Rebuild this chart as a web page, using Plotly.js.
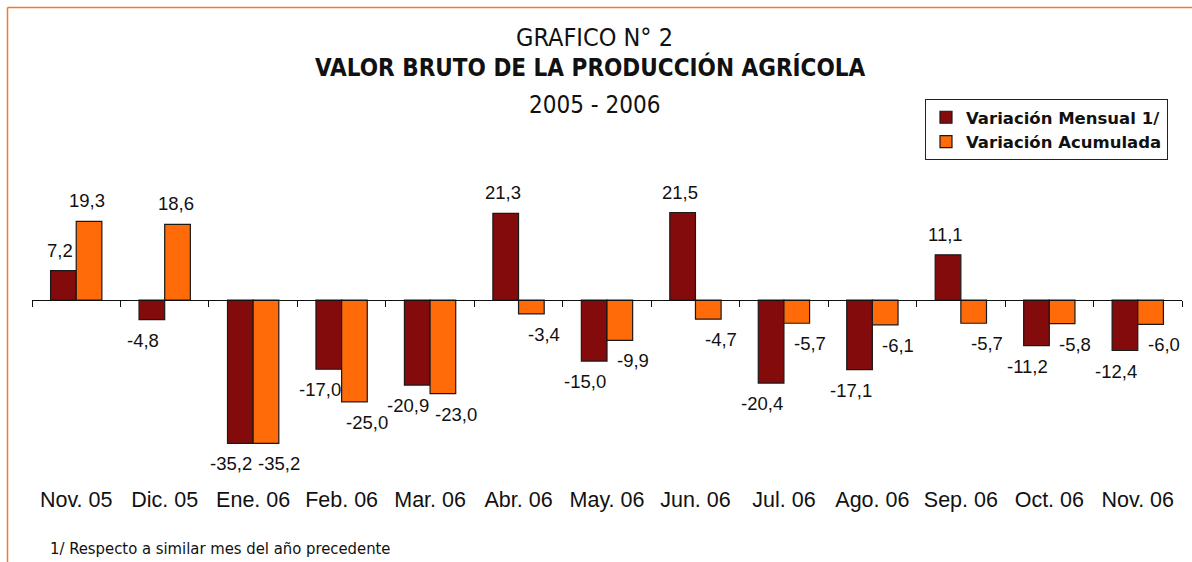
<!DOCTYPE html>
<html>
<head>
<meta charset="utf-8">
<script src="https://cdn.plot.ly/plotly-3.0.1.min.js"></script>
<style>
  html, body { margin: 0; padding: 0; background: #ffffff; }
  #chart { width: 1192px; height: 562px; }
</style>
</head>
<body>
<div id="chart"></div>
<script>
// ---- Data ----
const categories = ['Nov. 05', 'Dic. 05', 'Ene. 06', 'Feb. 06', 'Mar. 06', 'Abr. 06', 'May. 06',
                    'Jun. 06', 'Jul. 06', 'Ago. 06', 'Sep. 06', 'Oct. 06', 'Nov. 06'];
const mensual   = [7.2, -4.8, -35.2, -17.0, -20.9, 21.3, -15.0, 21.5, -20.4, -17.1, 11.1, -11.2, -12.4];
const acumulada = [19.3, 18.6, -35.2, -25.0, -23.0, -3.4, -9.9, -4.7, -5.7, -6.1, -5.7, -5.8, -6.0];
const seriesNames = ['Variación Mensual 1/', 'Variación Acumulada'];

// ---- Layout geometry ----
const W = 1192, H = 562;
const ML = 32, MR = 10, MT = 160, MB = 102;
const PW = W - ML - MR, PH = H - MT - MB;
const yRange = [-39.3, 34.4];
const BARGAP = 0.42;

function px2x(px) { return (px - ML) / PW; }
function py2y(py) { return (H - MB - py) / PH; }

const ARIAL = 'Liberation Sans, Arial, sans-serif';
const NARROW = 'Liberation Sans Narrow, Arial Narrow, DejaVu Sans Condensed, sans-serif';
const WIDEBOLD = 'DejaVu Sans, Liberation Sans, sans-serif';
const DARK = '#840b0b';
const ORANGE = '#fe6b08';

const fmt = v => v.toFixed(1).replace('.', ',');

const traces = [
  {
    type: 'bar', name: seriesNames[0], x: categories, y: mensual,
    marker: { color: DARK, line: { color: '#1a1a1a', width: 1.2 } },
    hoverinfo: 'skip'
  },
  {
    type: 'bar', name: seriesNames[1], x: categories, y: acumulada,
    marker: { color: ORANGE, line: { color: '#1a1a1a', width: 1.2 } },
    hoverinfo: 'skip'
  }
];

// Data labels (placed via axes, offset to each bar of the group)
const catW = PW / categories.length;
const barW = catW * (1 - BARGAP) / 2;
// label nudges (px) per series: [positive, negative]
const nudge = [[-3, -9], [-2, 13]];
const annotations = [];
[mensual, acumulada].forEach((arr, si) => {
  arr.forEach((v, i) => {
    const pos = v >= 0;
    annotations.push({
      x: categories[i], y: v, xref: 'x', yref: 'y',
      text: fmt(v), showarrow: false,
      xshift: (si === 0 ? -1 : 1) * barW / 2 + nudge[si][pos ? 0 : 1],
      yshift: pos ? 8 : -8,
      yanchor: pos ? 'bottom' : 'top',
      xanchor: 'center',
      font: { family: ARIAL, size: 18.5, color: '#111' }
    });
  });
});

// Titles and footnote
annotations.push(
  { xref: 'paper', yref: 'paper', x: px2x(594), y: py2y(38), xanchor: 'center', yanchor: 'middle',
    text: 'GRAFICO N° 2', showarrow: false, font: { family: NARROW, size: 25, color: '#111' } },
  { xref: 'paper', yref: 'paper', x: px2x(590), y: py2y(67), xanchor: 'center', yanchor: 'middle',
    text: '<b>VALOR BRUTO DE LA PRODUCCIÓN AGRÍCOLA</b>', showarrow: false,
    font: { family: NARROW, size: 24, color: '#111' } },
  { xref: 'paper', yref: 'paper', x: px2x(594), y: py2y(105), xanchor: 'center', yanchor: 'middle',
    text: '2005 - 2006', showarrow: false, font: { family: NARROW, size: 24, color: '#111' } },
  { xref: 'paper', yref: 'paper', x: px2x(48), y: py2y(548), xanchor: 'left', yanchor: 'middle',
    text: '1/ Respecto a similar mes del año precedente', showarrow: false,
    font: { family: NARROW, size: 16.5, color: '#111' } }
);

const BORDER = '#f47a2c';
const shapes = [
  { type: 'line', xref: 'paper', yref: 'paper', x0: px2x(7.5), x1: px2x(W + 5), y0: py2y(7.5), y1: py2y(7.5),
    line: { color: BORDER, width: 1.5 } },
  { type: 'line', xref: 'paper', yref: 'paper', x0: px2x(7.5), x1: px2x(7.5), y0: py2y(7.5), y1: py2y(H + 5),
    line: { color: BORDER, width: 1.5 } }
];

const layout = {
  width: W, height: H,
  margin: { l: ML, r: MR, t: MT, b: MB, autoexpand: false },
  paper_bgcolor: '#ffffff', plot_bgcolor: '#ffffff',
  separators: ',.',
  barmode: 'group', bargap: BARGAP, bargroupgap: 0,
  showlegend: true,
  legend: {
    x: px2x(925), y: py2y(99), xanchor: 'left', yanchor: 'top',
    bgcolor: '#ffffff', bordercolor: '#222222', borderwidth: 1,
    font: { family: WIDEBOLD, size: 16.5, color: '#111', weight: 'bold' },
    traceorder: 'normal', tracegroupgap: 0
  },
  xaxis: {
    type: 'category', anchor: 'free',
    position: (0 - yRange[0]) / (yRange[1] - yRange[0]),
    showline: true, linecolor: '#111', linewidth: 1,
    ticks: 'outside', ticklen: 6, tickcolor: '#111', tickwidth: 1,
    tickson: 'boundaries', showgrid: false, zeroline: false,
    ticklabelstandoff: 180,
    tickfont: { family: ARIAL, size: 21.5, color: '#111' },
    fixedrange: true
  },
  yaxis: {
    range: yRange, visible: false, showgrid: false, zeroline: false, fixedrange: true
  },
  annotations: annotations,
  shapes: shapes
};

Plotly.newPlot('chart', traces, layout, { displayModeBar: false, staticPlot: true });
</script>
</body>
</html>
